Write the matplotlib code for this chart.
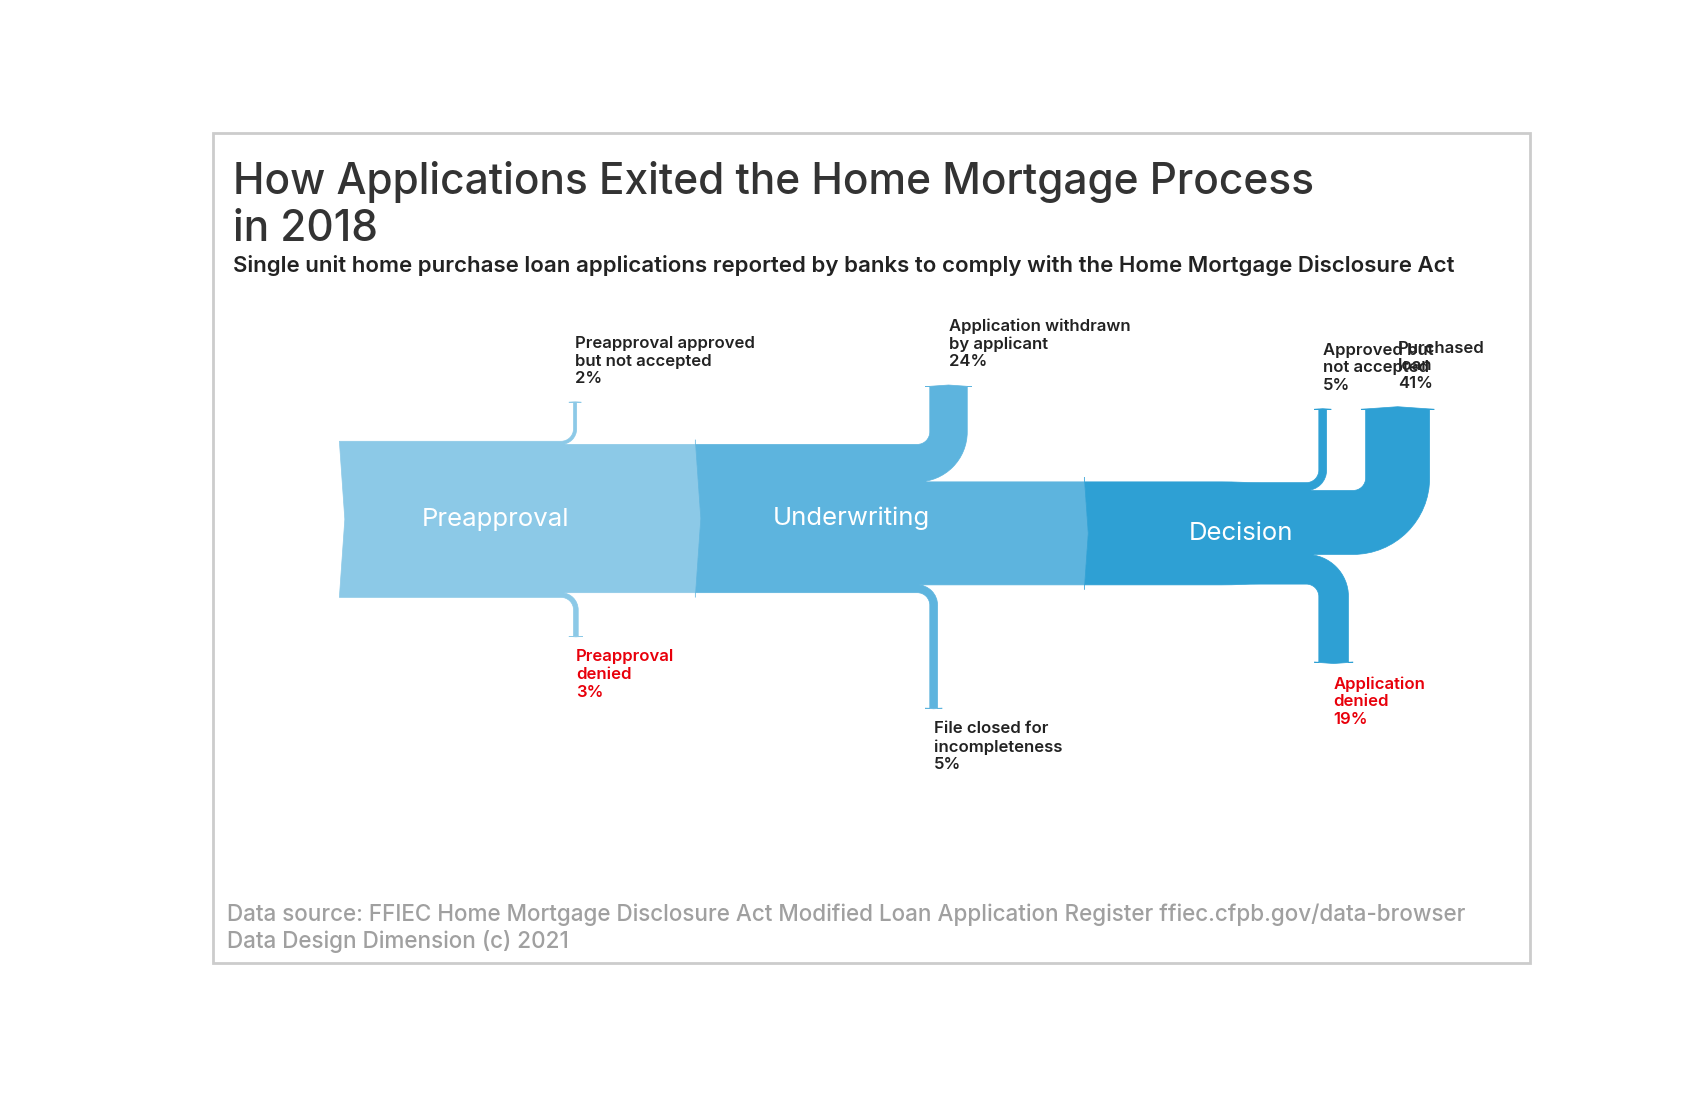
import matplotlib
matplotlib.use("Agg")
import matplotlib.pyplot as plt
from matplotlib.sankey import Sankey
from matplotlib.patches import Rectangle

plt.rcParams['font.family'] = ['Inter', 'DejaVu Sans']

# shares of all applications, in percent
stages = ["Preapproval", "Underwriting", "Decision"]
stage_colors = ["#8cc9e7", "#5db4de", "#2ea0d4"]

preapproval_names = ["", "Preapproval approved\nbut not accepted", "Preapproval\ndenied", ""]
preapproval_flows = [100, -2, -3, -95]

underwriting_names = ["", "Application withdrawn\nby applicant", "File closed for\nincompleteness", ""]
underwriting_flows = [95, -24, -5, -66]

decision_names = ["", "Approved but\nnot accepted", "Purchased\nloan", "Application\ndenied"]
decision_flows = [66, -5, -41, -19]

denied = ["Preapproval\ndenied", "Application\ndenied"]

fig = plt.figure(figsize=(17, 11), dpi=100)
ax = fig.add_axes([0, 0, 1, 1])

sankey = Sankey(ax=ax, scale=0.01, unit=None, head_angle=172, radius=0.08,
                gap=0.25, shoulder=0.03)
sankey.add(flows=preapproval_flows, orientations=[0, 1, -1, 0],
           pathlengths=[0.75, 0.25, 0.25, 0.75], trunklength=1.0,
           patchlabel=stages[0], fc=stage_colors[0], ec=stage_colors[0], lw=0.5)
sankey.add(flows=underwriting_flows, orientations=[0, 1, -1, 0],
           pathlengths=[0.75, 0.37, 0.74, 0.75], trunklength=1.0,
           prior=0, connect=(3, 0),
           patchlabel=stages[1], fc=stage_colors[1], ec=stage_colors[1], lw=0.5)
sankey.add(flows=decision_flows, orientations=[0, 1, 1, -1],
           pathlengths=[0.75, 0.47, 0.52, 0.5], trunklength=1.0,
           prior=1, connect=(3, 0),
           patchlabel=stages[2], fc=stage_colors[2], ec=stage_colors[2], lw=0.5)
diagrams = sankey.finish()

all_names = [preapproval_names, underwriting_names, decision_names]
all_flows = [preapproval_flows, underwriting_flows, decision_flows]
for diagram, names, flows in zip(diagrams, all_names, all_flows):
    diagram.text.set_color("white")
    diagram.text.set_fontsize(18.5)
    for name, flow, tip, orient in zip(names, flows, diagram.tips, diagram.angles):
        if not name:
            continue
        color = "#e8000b" if name in denied else "#222222"
        label = f"{name}\n{abs(flow)}%"
        if orient == 1:  # up
            ax.text(tip[0], tip[1] + 0.1, label, ha="left", va="bottom",
                    fontsize=12, fontweight="semibold", color=color, linespacing=1.22)
        else:
            ax.text(tip[0], tip[1] - 0.08, label, ha="left", va="top",
                    fontsize=12, fontweight="semibold", color=color, linespacing=1.22)

ax.set_aspect("auto")
ax.set_xlim(-3.174, 7.716)
ax.set_ylim(-3.720, 3.327)
ax.axis("off")

fig.patches.append(Rectangle((0.1253, 0.1245), 0.7747, 0.7545, transform=fig.transFigure,
                             fill=False, edgecolor="#cccccc", linewidth=2))

fig.text(0.137, 0.854, "How Applications Exited the Home Mortgage Process\nin 2018",
         ha="left", va="top", fontsize=30.5, fontweight="medium", color="#333333",
         linespacing=1.2)
fig.text(0.137, 0.7585, "Single unit home purchase loan applications reported by banks "
         "to comply with the Home Mortgage Disclosure Act",
         ha="left", va="center", fontsize=16, fontweight="semibold", color="#222222")
fig.text(0.1333, 0.1564, "Data source: FFIEC Home Mortgage Disclosure Act Modified Loan "
         "Application Register ffiec.cfpb.gov/data-browser\nData Design Dimension (c) 2021",
         ha="left", va="center", fontsize=16.2, fontweight="medium", color="#a0a0a0",
         linespacing=1.2)

fig.savefig("out.png", dpi=100)
